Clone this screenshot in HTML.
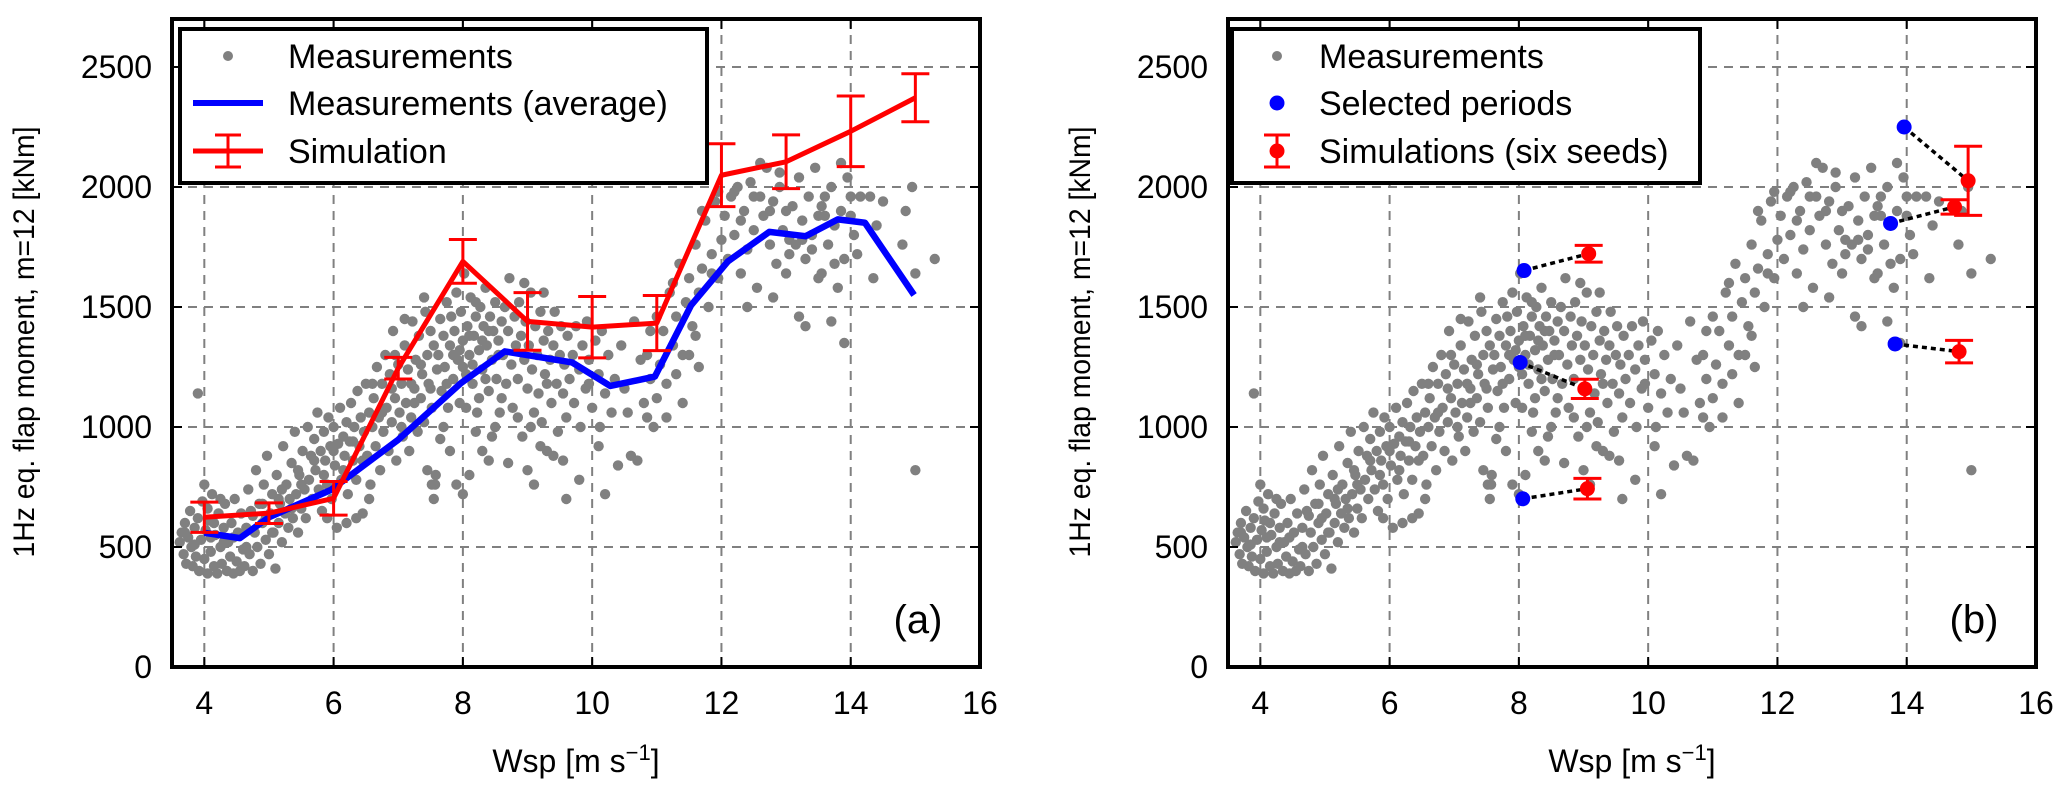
<!DOCTYPE html>
<html><head><meta charset="utf-8"><style>
html,body{margin:0;padding:0;background:#fff;}
svg{display:block;font-family:"Liberation Sans","DejaVu Sans",sans-serif;}
</style></head><body>
<svg id="fig" width="2067" height="795" viewBox="0 0 2067 795" xmlns="http://www.w3.org/2000/svg">
<g id="panelA"></g>
<g id="panelB"></g>
</svg>
<script>
const xTicks=[4,6,8,10,12,14,16];
const yTicks=[0,500,1000,1500,2000,2500];
const measWsp=[3.62,3.65,3.68,3.7,3.72,3.75,3.78,3.8,3.82,3.85,3.87,3.9,3.92,3.95,3.97,4.0,4.02,4.05,4.07,4.1,4.12,4.15,4.17,4.2,4.22,4.25,4.27,4.3,4.32,4.35,4.37,4.4,4.42,4.45,4.47,4.5,4.52,4.55,4.57,4.6,3.9,3.7,3.85,4.05,4.15,4.3,4.45,4.0,4.25,4.1,
4.62,4.65,4.68,4.7,4.72,4.75,4.78,4.8,4.82,4.85,4.87,4.9,4.92,4.95,4.97,5.0,5.02,5.05,5.07,5.1,5.12,5.15,5.17,5.2,5.22,5.25,5.27,5.3,5.32,5.35,5.37,5.4,5.42,5.45,5.47,5.5,5.52,5.55,5.57,5.6,4.75,4.9,5.05,5.2,5.35,5.5,4.65,4.95,5.15,5.45,
5.62,5.65,5.67,5.7,5.72,5.75,5.77,5.8,5.82,5.85,5.87,5.9,5.92,5.95,5.97,6.0,6.02,6.05,6.07,6.1,6.12,6.15,6.17,6.2,6.22,6.25,6.27,6.3,6.32,6.35,6.37,6.4,6.42,6.45,6.47,6.5,6.52,6.55,6.57,6.6,5.7,5.85,6.0,6.15,6.3,6.45,6.2,5.9,6.55,6.35,
6.62,6.65,6.67,6.7,6.72,6.75,6.77,6.8,6.82,6.85,6.87,6.9,6.92,6.95,6.97,7.0,7.02,7.05,7.07,7.1,7.12,7.15,7.17,7.2,7.22,7.25,7.27,7.3,7.32,7.35,7.37,7.4,7.42,7.45,7.47,7.5,7.52,7.55,7.57,7.6,6.75,6.9,7.05,7.2,7.35,7.5,7.45,7.55,6.6,7.1,7.25,6.95,7.4,7.58,7.52,
7.62,7.65,7.67,7.7,7.72,7.75,7.77,7.8,7.82,7.85,7.87,7.9,7.92,7.95,7.97,8.0,8.02,8.05,8.07,8.1,8.12,8.15,8.17,8.2,8.22,8.25,8.27,8.3,8.32,8.35,8.37,8.4,8.42,8.45,8.47,8.5,8.52,8.55,8.57,8.6,7.7,7.8,7.9,8.0,8.1,8.2,8.3,8.4,8.5,8.05,7.75,7.95,8.15,8.35,8.55,8.0,8.25,8.45,8.1,7.85,8.2,8.4,8.6,7.65,8.3,
8.62,8.65,8.67,8.7,8.72,8.75,8.77,8.8,8.82,8.85,8.87,8.9,8.92,8.95,8.97,9.0,9.02,9.05,9.07,9.1,9.12,9.15,9.17,9.2,9.22,9.25,9.27,9.3,9.32,9.35,9.37,9.4,9.42,9.45,9.47,9.5,9.52,9.55,9.57,9.6,8.7,9.0,9.1,9.2,9.4,8.85,9.05,9.3,9.55,9.6,8.95,9.25,
9.62,9.65,9.7,9.72,9.75,9.8,9.82,9.85,9.9,9.92,9.95,10.0,10.05,10.1,10.12,10.15,10.2,10.25,10.3,10.35,10.4,10.45,10.5,10.6,10.7,10.75,10.8,10.85,10.9,10.95,11.0,10.9,9.8,10.1,10.2,9.95,10.55,10.85,11.0,10.65,
11.05,11.1,11.15,11.2,11.25,11.3,11.35,11.4,11.45,11.5,11.55,11.6,11.65,11.7,11.75,11.8,11.85,11.9,11.95,12.0,11.3,11.4,11.15,11.6,11.7,11.85,11.5,11.95,11.25,11.65,
12.05,12.1,12.15,12.2,12.25,12.3,12.35,12.4,12.45,12.5,12.55,12.6,12.65,12.7,12.75,12.8,12.85,12.9,12.95,13.0,12.4,12.8,13.0,12.6,12.2,12.9,13.05,12.75,12.5,12.3,
13.1,13.15,13.2,13.25,13.3,13.35,13.4,13.45,13.5,13.55,13.6,13.65,13.7,13.75,13.8,13.85,13.9,13.95,14.0,14.05,13.2,13.3,13.7,13.9,13.5,14.0,13.4,13.6,14.1,13.85,13.25,13.75,14.15,13.55,13.05,
14.3,14.35,14.5,14.8,14.85,15.0,15.0,15.3,14.95,14.4];
const measMoment=[520,560,470,600,430,540,650,500,420,580,460,620,400,530,690,450,570,390,610,480,720,420,550,390,640,500,430,580,680,400,520,460,600,390,700,440,560,400,640,490,1140,560,510,660,600,520,540,760,700,540,
420,580,740,470,650,400,560,820,500,680,430,600,760,530,880,470,640,720,560,410,800,600,680,520,920,640,760,580,700,850,620,980,720,560,800,660,900,740,620,1000,630,680,560,740,660,760,500,620,700,820,
780,880,700,950,820,1060,740,900,650,980,860,760,1040,920,700,1000,840,580,930,1080,780,960,880,1020,720,940,1100,860,1000,780,1150,920,1040,640,980,1180,880,1060,760,1000,860,800,900,820,940,860,600,620,700,620,
1120,920,1250,1040,820,1180,980,1300,1080,900,1220,1020,1400,1120,860,1260,1060,1180,960,1340,1100,1240,900,1040,1440,1160,1280,980,1380,1120,1220,1020,1480,1300,1180,1400,1080,1340,760,1240,1060,1160,1000,1180,1260,1160,820,700,1180,1450,1100,1300,1540,800,760,
1300,1450,1150,1380,1250,1520,1080,1340,1460,1200,1400,1560,1280,1100,1480,1360,1640,1220,1420,1300,1540,1180,1380,1460,1060,1320,1500,1240,1420,1580,1340,1150,1460,1280,1400,1520,1200,1360,1060,1440,1000,900,760,720,800,980,900,860,1000,1080,1180,1320,1260,1200,1300,1250,1120,960,1380,1300,1520,1400,1120,950,1360,
1300,1500,1180,1400,1620,1260,1080,1460,1340,1200,1520,1380,960,1280,1440,1160,1340,1560,1240,1060,1420,1300,1140,1480,1020,1360,1220,900,1400,1280,1100,1340,1480,1180,980,1300,1420,1140,1260,1040,850,820,760,920,880,1040,1000,1180,860,700,1600,1560,
1380,1200,1300,1100,1420,1240,1000,1340,1160,1440,1280,1080,1360,1220,1000,1400,1140,1300,1060,1200,840,1340,1160,880,860,1280,1100,1040,1200,1000,1120,1400,780,920,720,1180,1060,1300,1460,1440,
1260,1400,1180,1560,1340,1460,1680,1300,1520,1620,1420,1760,1560,1660,1860,1500,1720,1940,1620,1780,1220,1100,1040,1380,1900,1640,1300,1980,1600,1250,
1880,1700,1960,1800,2000,1640,1900,1740,2020,1820,1580,1960,1880,2080,1760,1940,1680,2000,1820,1900,1500,1540,1640,2100,1980,2060,1780,1900,1960,1860,
1920,1760,2040,1860,1700,1960,1800,2080,1880,1640,1960,1760,2000,1840,1580,1900,1700,2040,1880,1800,1460,1420,1440,1350,1620,1960,1740,1880,1720,2100,1780,1680,1960,1920,1720,
1960,1620,1940,1760,1900,1640,820,1700,2000,1840];
const avgWsp=[4.0,4.55,5.0,5.96,7.0,7.97,8.65,9.69,10.28,10.97,11.53,12.1,12.74,13.3,13.8,14.22,14.98];
const avgMoment=[559,537,624,738,947,1183,1315,1269,1171,1210,1507,1690,1813,1795,1865,1851,1550];
const simWsp=[4,5,6,7,8,9,10,11,12,13,14,15];
const simMoment=[624,641,703,1245,1690,1440,1416,1433,2049,2105,2232,2372];
const simErr=[63,43,70,45,91,120,128,115,131,112,147,100];
const selWsp=[8.08,8.02,8.06,13.96,13.75,13.82];
const selMoment=[1652,1269,701,2250,1848,1346];
const seedWsp=[9.08,9.02,9.06,14.95,14.74,14.81];
const seedMoment=[1722,1159,743,2026,1917,1314];
const seedErr=[35,40,43,144,30,47];

const NS="http://www.w3.org/2000/svg";
function mk(parent,tag,attrs){const e=document.createElementNS(NS,tag);for(const k in attrs)e.setAttribute(k,attrs[k]);parent.appendChild(e);return e;}
const Y0=19,Y1=667,YMAX=2700,XMIN=3.5,XMAX=16;

function panel(g,x0,x1,letter){
  const sx=v=>x0+(v-XMIN)/(XMAX-XMIN)*(x1-x0);
  const sy=v=>Y1-v/YMAX*(Y1-Y0);
  const grid=mk(g,'g',{});
  
  
  xTicks.forEach(t=>{const l=mk(grid,'line',{x1:sx(t),x2:sx(t),y1:Y0,y2:Y1,stroke:'#808080','stroke-width':2,'stroke-dasharray':'9,7'});
    });
  yTicks.forEach(t=>{const l=mk(grid,'line',{x1:x0,x2:x1,y1:sy(t),y2:sy(t),stroke:'#808080','stroke-width':2,'stroke-dasharray':'9,7'});
    });
  return {sx,sy};
}
function axes(g,x0,x1,sx,sy,letter,ytx,ttlx){
  const ax=mk(g,'g',{});
  
  
  xTicks.forEach(t=>{
    mk(ax,'line',{x1:sx(t),x2:sx(t),y1:Y1,y2:Y1-10,stroke:'#000','stroke-width':2});
    mk(ax,'line',{x1:sx(t),x2:sx(t),y1:Y0,y2:Y0+10,stroke:'#000','stroke-width':2});
    const tx=mk(ax,'text',{x:sx(t),y:714,'font-size':32,'text-anchor':'middle'});tx.textContent=t;
    
  });
  yTicks.forEach(t=>{
    mk(ax,'line',{x1:x0,x2:x0+10,y1:sy(t),y2:sy(t),stroke:'#000','stroke-width':2});
    mk(ax,'line',{x1:x1,x2:x1-10,y1:sy(t),y2:sy(t),stroke:'#000','stroke-width':2});
    const tx=mk(ax,'text',{x:x0-20,y:sy(t)+11,'font-size':32,'text-anchor':'end'});tx.textContent=t;
    
  });
  mk(ax,'rect',{x:x0,y:Y0,width:x1-x0,height:Y1-Y0,fill:'none',stroke:'#000','stroke-width':4});
  const xt=mk(ax,'text',{x:(x0+x1)/2,y:772,'font-size':32,'text-anchor':'middle'});
  xt.innerHTML='Wsp [m s<tspan dy="-12" font-size="22">−1</tspan><tspan dy="12">]</tspan>';
  
  const yt=mk(ax,'text',{x:0,y:0,'font-size':30,'text-anchor':'middle',transform:`translate(${ttlx},342) rotate(-90)`,textLength:431,lengthAdjust:'spacingAndGlyphs'});
  yt.textContent='1Hz eq. flap moment, m=12 [kNm]';
  
  const lt=mk(ax,'text',{x:x1-62,y:633,'font-size':40,'text-anchor':'middle'});lt.textContent=letter;
  
}
function scatter(g,sx,sy){
  const s=mk(g,'g',{fill:'#808080'});
  
  
  measWsp.forEach((w,i)=>{const c=mk(s,'circle',{cx:sx(w),cy:sy(measMoment[i]),r:5.2});
    });
}
function errbar(g,x,y,lo,hi,cap,w){
  mk(g,'line',{x1:x,x2:x,y1:lo,y2:hi,stroke:'#f00','stroke-width':w});
  mk(g,'line',{x1:x-cap,x2:x+cap,y1:lo,y2:lo,stroke:'#f00','stroke-width':w});
  mk(g,'line',{x1:x-cap,x2:x+cap,y1:hi,y2:hi,stroke:'#f00','stroke-width':w});
}
function legendBox(g,x,y,w,h){
  mk(g,'rect',{x:x,y:y,width:w,height:h,fill:'#fff',stroke:'#000','stroke-width':4});
}
function ltext(g,x,y,str){const t=mk(g,'text',{x:x,y:y,'font-size':34});t.textContent=str;return t;}

// Panel A
const gA=document.getElementById('panelA');
const A=panel(gA,172,980,'(a)');
scatter(gA,A.sx,A.sy);
const avgLine=mk(gA,'polyline',{points:avgWsp.map((w,i)=>A.sx(w)+','+A.sy(avgMoment[i])).join(' '),fill:'none',stroke:'#00f','stroke-width':6.5,'stroke-linejoin':'round'});


const simG=mk(gA,'g',{});


mk(simG,'polyline',{points:simWsp.map((w,i)=>A.sx(w)+','+A.sy(simMoment[i])).join(' '),fill:'none',stroke:'#f00','stroke-width':5,'stroke-linejoin':'round'});
simWsp.forEach((w,i)=>errbar(simG,A.sx(w),0,A.sy(simMoment[i]-simErr[i]),A.sy(simMoment[i]+simErr[i]),14,3));
axes(gA,172,980,A.sx,A.sy,'(a)',152,34);
const legA=mk(gA,'g',{});


legendBox(legA,180,29,527,154);
mk(legA,'circle',{cx:228,cy:56,r:5,fill:'#808080'});
ltext(legA,288,68,'Measurements');
mk(legA,'line',{x1:193,x2:263,y1:103,y2:103,stroke:'#00f','stroke-width':6});
ltext(legA,288,115,'Measurements (average)');
mk(legA,'line',{x1:193,x2:263,y1:151,y2:151,stroke:'#f00','stroke-width':5});
errbar(legA,228,0,135,167,13,3);
ltext(legA,288,163,'Simulation');

// Panel B
const gB=document.getElementById('panelB');
const B=panel(gB,1228,2036,'(b)');
scatter(gB,B.sx,B.sy);
const conn=mk(gB,'g',{});


selWsp.forEach((w,i)=>mk(conn,'line',{x1:B.sx(w),y1:B.sy(selMoment[i]),x2:B.sx(seedWsp[i]),y2:B.sy(seedMoment[i]),stroke:'#000','stroke-width':3.5,'stroke-dasharray':'5,4'}));
const selG=mk(gB,'g',{fill:'#00f'});


selWsp.forEach((w,i)=>{const c=mk(selG,'circle',{cx:B.sx(w),cy:B.sy(selMoment[i]),r:7.5});
  });
const seedG=mk(gB,'g',{});


seedWsp.forEach((w,i)=>{errbar(seedG,B.sx(w),0,B.sy(seedMoment[i]-seedErr[i]),B.sy(seedMoment[i]+seedErr[i]),14,3);
  const c=mk(seedG,'circle',{cx:B.sx(w),cy:B.sy(seedMoment[i]),r:7.5,fill:'#f00'});
  });
axes(gB,1228,2036,B.sx,B.sy,'(b)',1208,1090);
const legB=mk(gB,'g',{});


legendBox(legB,1232,29,468,154);
mk(legB,'circle',{cx:1277,cy:56,r:5,fill:'#808080'});
ltext(legB,1319,68,'Measurements');
mk(legB,'circle',{cx:1277,cy:103,r:7.5,fill:'#00f'});
ltext(legB,1319,115,'Selected periods');
errbar(legB,1277,0,135,167,13,3);
mk(legB,'circle',{cx:1277,cy:151,r:7.5,fill:'#f00'});
ltext(legB,1319,163,'Simulations (six seeds)');
</script>
</body></html>
